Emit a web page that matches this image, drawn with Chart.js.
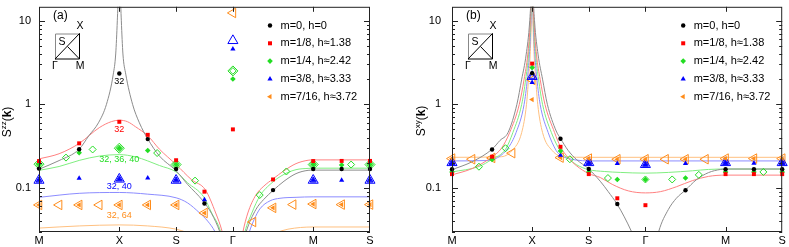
<!DOCTYPE html>
<html>
<head>
<meta charset="utf-8">
<script src="https://cdn.jsdelivr.net/npm/chart.js@4.4.1/dist/chart.umd.min.js"></script>
<style>
  body { margin: 0; background: #fff; }
  canvas { position: absolute; top: 0; }
</style>
</head>
<body>
<canvas id="zz" width="380" height="247" style="left:0"></canvas>
<canvas id="xy" width="376" height="247" style="left:413px"></canvas>
<script>
// path through the zone: M -> X -> S -> Gamma -> M -> S
const pathPos = [0, 1, 1.707, 2.414, 3.414, 4.121];
const pathNames = ['M', 'X', 'S', 'Γ', 'M', 'S'];
const yTicks = [0.1, 1, 10];
const legendNames = ['m=0, h=0', 'm=1/8, h≈1.38', 'm=1/4, h≈2.42', 'm=3/8, h≈3.33', 'm=7/16, h≈3.72'];

const colors = ['#000000', '#ff0000', '#22dd22', '#0000ff', '#ff8c1a'];
const lineColors = ['#8c8c8c', '#ff8080', '#80ee80', '#8c8cff', '#ffc080'];

// ---- panel (a): S^zz(k) ----
const zzLine0 = [[0,0.167],[0.25,0.212],[0.5,0.29],[0.62,0.42],[0.74,0.6],[0.84,1.0],[0.925,2.3],[0.955,4],[0.975,10],[0.99,25],[1.0,60],[1.01,25],[1.025,10],[1.045,4],[1.08,2.3],[1.165,1.0],[1.25,0.6],[1.354,0.385],[1.5,0.24],[1.707,0.16],[1.85,0.11],[2.04,0.07],[2.15,0.049],[2.25,0.03],[2.32,0.018],[2.414,null],[2.52,0.018],[2.58,0.03],[2.7,0.055],[2.8,0.073],[2.914,0.093],[3.05,0.12],[3.2,0.148],[3.35,0.162],[3.414,0.163],[4.121,0.163]];
const zzLine1 = [[0,0.222],[0.25,0.256],[0.5,0.34],[0.75,0.525],[0.9,0.62],[1.0,0.645],[1.1,0.62],[1.2,0.54],[1.354,0.42],[1.5,0.29],[1.707,0.19],[1.9,0.125],[2.07,0.095],[2.2,0.05],[2.28,0.03],[2.33,0.018],[2.414,null],[2.5,0.018],[2.54,0.03],[2.6,0.05],[2.7,0.082],[2.8,0.105],[2.914,0.128],[3.05,0.16],[3.2,0.195],[3.35,0.214],[3.414,0.216],[4.121,0.216]];
const zzLine2 = [[0,0.162],[0.25,0.18],[0.5,0.213],[0.75,0.24],[1.0,0.25],[1.2,0.235],[1.354,0.21],[1.5,0.185],[1.707,0.155],[1.85,0.115],[2.05,0.078],[2.15,0.05],[2.26,0.03],[2.31,0.018],[2.414,null],[2.52,0.018],[2.565,0.03],[2.65,0.05],[2.75,0.08],[2.9,0.115],[3.05,0.145],[3.2,0.165],[3.35,0.171],[3.414,0.172],[4.121,0.172]];
const zzLine3 = [[0,0.077],[0.5,0.086],[1.0,0.088],[1.354,0.084],[1.707,0.076],[1.85,0.066],[2.0,0.05],[2.1,0.04],[2.19,0.03],[2.25,0.022],[2.414,null],[2.58,0.022],[2.62,0.03],[2.68,0.042],[2.75,0.056],[2.877,0.07],[3.0,0.075],[3.2,0.077],[3.414,0.078],[4.121,0.078]];
const zzLine4 = [[0,0.033],[0.5,0.035],[1.0,0.036],[1.354,0.035],[1.707,0.032],[1.85,0.029],[2.0,0.025],[2.414,null],[2.8,0.025],[2.95,0.029],[3.1,0.032],[3.414,0.034],[4.121,0.034]];

const zzDots0 = [[0,0.17],[0.5,0.29],[1,2.34],[1.354,0.383],[1.707,0.168],[2.06,0.065],[2.914,0.094],[3.414,0.168],[3.768,0.168],[4.121,0.168]];
const zzDots1 = [[0,0.209],[0.5,0.341],[1,0.617],[1.354,0.431],[1.707,0.214],[2.06,0.09],[2.414,0.501],[2.914,0.126],[3.414,0.209],[3.768,0.21],[4.121,0.21]];
const zzDots2 = [[0,0.192],[0.5,0.263],[1,0.298],[1.354,0.28],[1.707,0.19],[2.414,2.01],[3.414,0.19],[3.768,0.188],[4.121,0.19]];
const zzDots3 = [[0,0.123],[0.5,0.13],[1,0.127],[1.354,0.131],[1.707,0.123],[2.06,0.072],[2.414,4.59],[3.414,0.123],[3.768,0.123],[4.121,0.123]];
const zzDots4 = [[0,0.0624],[0.5,0.0624],[1,0.0624],[1.354,0.0624],[1.707,0.0624],[2.06,0.05],[2.914,0.0576],[3.414,0.064],[3.768,0.063],[4.121,0.063]];

const zzGreenOpen = [[0.336,0.23],[0.668,0.288],[1.471,0.261],[1.943,0.122],[2.748,0.082],[3.08,0.157],[3.886,0.19]];
const zzGreenBig = [[0,0.192],[1,0.298],[1.707,0.19],[2.414,2.51],[3.414,0.19],[4.121,0.19]];
const zzBlueBig = [[0,0.123],[1,0.127],[1.707,0.123],[2.414,5.78],[3.414,0.123],[4.121,0.123]];
const zzBlueMid = [[0,0.123],[1,0.127],[1.707,0.123],[3.414,0.123],[4.121,0.123]];
const zzOrangeOpen = [[0,0.0624],[0.25,0.0624],[0.5,0.0624],[0.75,0.0624],[1,0.0624],[1.354,0.0624],[1.707,0.0624],[2.06,0.05],[2.414,12.4],[2.664,0.039],[2.914,0.0576],[3.164,0.063],[3.414,0.064],[3.768,0.063],[4.121,0.063]];

// cluster sizes written under the X point
const zzNotes = [['32', 1.85, 0], ['32', 0.497, 1], ['32, 36, 40', 0.216, 2], ['32, 40', 0.105, 3], ['32, 64', 0.0468, 4]];

// ---- panel (b): S^xy(k) ----
const xyLine0 = [[0,0.165],[0.25,0.205],[0.5,0.29],[0.6,0.37],[0.7,0.46],[0.81,1.0],[0.87,2.0],[0.925,3.9],[0.97,10],[0.99,25],[1.0,80],[1.01,25],[1.03,10],[1.075,3.9],[1.13,2.0],[1.19,1.0],[1.3,0.48],[1.354,0.39],[1.45,0.28],[1.55,0.22],[1.707,0.168],[1.85,0.12],[1.95,0.09],[2.06,0.064],[2.15,0.045],[2.24,0.03],[2.3,0.022],[2.414,null],[2.55,0.022],[2.58,0.03],[2.7,0.055],[2.8,0.075],[2.914,0.094],[3.05,0.125],[3.2,0.152],[3.35,0.166],[3.414,0.168],[4.121,0.168]];
const xyLine1 = [[0,0.143],[0.25,0.17],[0.5,0.235],[0.62,0.3],[0.72,0.46],[0.84,1.0],[0.9,2.0],[0.945,3.9],[0.978,10],[0.993,25],[1.0,80],[1.007,25],[1.022,10],[1.055,3.9],[1.1,2.0],[1.16,1.0],[1.28,0.46],[1.354,0.31],[1.45,0.23],[1.55,0.185],[1.707,0.148],[1.85,0.133],[2.0,0.11],[2.2,0.092],[2.414,0.087],[2.6,0.09],[2.8,0.103],[3.0,0.122],[3.2,0.137],[3.414,0.142],[4.121,0.142]];
const xyLine2 = [[0,0.155],[0.336,0.18],[0.5,0.22],[0.668,0.29],[0.76,0.46],[0.87,1.0],[0.92,2.0],[0.955,3.9],[0.982,10],[0.994,25],[1.0,80],[1.006,25],[1.018,10],[1.045,3.9],[1.08,2.0],[1.13,1.0],[1.24,0.46],[1.354,0.275],[1.45,0.225],[1.55,0.19],[1.707,0.165],[1.9,0.157],[2.1,0.153],[2.414,0.15],[2.7,0.153],[3.0,0.16],[3.2,0.166],[3.414,0.168],[4.121,0.168]];
const xyLine3 = [[0,0.21],[0.4,0.212],[0.55,0.225],[0.7,0.3],[0.8,0.46],[0.9,1.0],[0.94,2.0],[0.965,3.9],[0.986,10],[0.995,25],[1.0,80],[1.005,25],[1.014,10],[1.035,3.9],[1.06,2.0],[1.1,1.0],[1.2,0.46],[1.3,0.28],[1.354,0.245],[1.45,0.225],[1.55,0.215],[1.707,0.21],[4.121,0.21]];
const xyLine4 = [[0,0.232],[0.6,0.235],[0.75,0.28],[0.87,0.46],[0.93,1.0],[0.955,2.0],[0.975,3.9],[0.99,10],[0.997,25],[1.0,80],[1.003,25],[1.01,10],[1.025,3.9],[1.045,2.0],[1.07,1.0],[1.13,0.46],[1.25,0.28],[1.4,0.235],[1.707,0.232],[4.121,0.232]];

const xyDots0 = [[0,0.167],[0.5,0.288],[1,2.35],[1.354,0.387],[1.707,0.168],[2.063,0.064],[2.914,0.0935],[3.414,0.167],[3.768,0.167],[4.121,0.167]];
const xyDots1 = [[0,0.146],[0.5,0.236],[1,3.07],[1.354,0.31],[1.707,0.146],[2.063,0.075],[2.414,0.062],[3.414,0.146],[3.768,0.146],[4.121,0.146]];
const xyDots2 = [[0,0.155],[0.5,0.218],[1,2.75],[1.354,0.277],[1.707,0.155],[2.063,0.126],[2.414,0.126],[2.914,0.131],[3.414,0.155],[3.768,0.155],[4.121,0.155]];
const xyDots3 = [[0,0.2],[0.5,0.225],[1,1.82],[1.354,0.245],[1.707,0.2],[2.063,0.195],[2.414,0.19],[2.914,0.195],[3.414,0.2],[3.768,0.197],[4.121,0.2]];
const xyDots4 = [[0,0.224],[0.5,0.228],[1,1.14],[1.354,0.23],[1.707,0.224],[2.063,0.22],[2.414,0.22],[2.914,0.22],[3.414,0.224],[3.768,0.224],[4.121,0.224]];

const xyGreenOpen = [[0.336,0.179],[0.668,0.298],[1.471,0.22],[1.946,0.131],[2.414,0.126],[2.748,0.126],[3.08,0.143],[3.886,0.155]];
const xyBlueBig = [[0,0.2],[1,2.15],[1.707,0.2],[2.414,0.19],[3.414,0.2],[4.121,0.2]];
const xyBlueMid = [[0,0.2],[1,2.15],[1.707,0.2],[2.414,0.19],[3.414,0.2],[4.121,0.2]];
const xyOrangeOpen = [[0,0.224],[0.25,0.22],[0.5,0.228],[0.75,0.26],[1,1.96],[1.354,0.23],[1.707,0.224],[2.063,0.22],[2.414,0.22],[2.665,0.22],[2.914,0.22],[3.163,0.22],[3.414,0.224],[3.768,0.224],[4.121,0.224]];

Chart.defaults.font.family = '"Liberation Sans", Arial, sans-serif';
Chart.defaults.font.size = 11;
Chart.defaults.color = '#000';

const marks = [
  {style: 'circle', r: 2.2, rot: 0},
  {style: 'rect', r: 2.8, rot: 0},
  {style: 'rectRot', r: 2.8, rot: 0},
  {style: 'triangle', r: 3, rot: 0},
  {style: 'triangle', r: 3, rot: -90},
];

const pts = arr => arr.map(p => ({x: p[0], y: p[1]}));

function filled(data, i) {
  const m = marks[i];
  return { data: pts(data), showLine: false, clip: false, order: 0,
    pointStyle: m.style, pointRadius: m.r, pointRotation: m.rot,
    backgroundColor: colors[i], borderColor: colors[i], borderWidth: 0 };
}
function hollow(data, i, r) {
  const m = marks[i];
  return { data: pts(data), showLine: false, clip: false, order: 1,
    pointStyle: m.style, pointRadius: r, pointRotation: m.rot,
    backgroundColor: 'rgba(0,0,0,0)', borderColor: colors[i], borderWidth: 1 };
}
function curve(data, i) {
  return { data: pts(data), showLine: true, pointRadius: 0, order: 2,
    borderColor: lineColors[i], borderWidth: 1, cubicInterpolationMode: 'monotone', spanGaps: false };
}

// little marker for the legend, same shapes as the data
function legendMark(ctx, i, x, y) {
  ctx.fillStyle = colors[i];
  ctx.beginPath();
  if (i === 0) ctx.arc(x, y, 2.2, 0, Math.PI * 2);
  else if (i === 1) ctx.rect(x - 2, y - 2, 4, 4);
  else if (i === 2) { ctx.moveTo(x, y - 2.8); ctx.lineTo(x + 2.8, y); ctx.lineTo(x, y + 2.8); ctx.lineTo(x - 2.8, y); }
  else if (i === 3) { ctx.moveTo(x, y - 3); ctx.lineTo(x + 2.6, y + 1.5); ctx.lineTo(x - 2.6, y + 1.5); }
  else { ctx.moveTo(x - 3, y); ctx.lineTo(x + 1.5, y - 2.6); ctx.lineTo(x + 1.5, y + 2.6); }
  ctx.closePath();
  ctx.fill();
}

const deco = {
  id: 'deco',
  afterDraw(chart, args, o) {
    const ctx = chart.ctx, a = chart.chartArea, x = chart.scales.x, y = chart.scales.y;
    ctx.save();
    // frame
    ctx.strokeStyle = '#222';
    ctx.lineWidth = 1;
    ctx.strokeRect(a.left + 0.5, a.top + 0.5, a.right - a.left - 1, a.bottom - a.top - 1);

    // inward ticks on the log axis
    ctx.beginPath();
    [0.01, 0.1, 1, 10].forEach(d => {
      for (let k = 1; k <= 9; k++) {
        const v = k * d;
        if (v < y.min || v > y.max) continue;
        const py = Math.round(y.getPixelForValue(v)) + 0.5;
        const len = k === 1 ? 6 : 3;
        ctx.moveTo(a.left, py); ctx.lineTo(a.left + len, py);
        ctx.moveTo(a.right, py); ctx.lineTo(a.right - len, py);
      }
    });
    pathPos.slice(1, -1).forEach(v => {
      const px = Math.round(x.getPixelForValue(v)) + 0.5;
      ctx.moveTo(px, a.bottom); ctx.lineTo(px, a.bottom - 5);
      ctx.moveTo(px, a.top); ctx.lineTo(px, a.top + 5);
    });
    ctx.stroke();

    // axis title S^ab(k)
    ctx.translate(o.titleX, o.titleY);
    ctx.rotate(-Math.PI / 2);
    ctx.fillStyle = '#000';
    ctx.textBaseline = 'middle';
    const parts = [['S', '12px', 0], [o.sup, '8px', -4], ['(', '12px', 0], ['k', 'bold 12px', 0], [')', '12px', 0]];
    let w = 0;
    parts.forEach(p => { ctx.font = p[1] + ' "Liberation Sans", Arial'; w += ctx.measureText(p[0]).width; });
    let cx = -w / 2;
    parts.forEach(p => {
      ctx.font = p[1] + ' "Liberation Sans", Arial';
      ctx.fillText(p[0], cx, p[2]);
      cx += ctx.measureText(p[0]).width;
    });
    ctx.setTransform(1, 0, 0, 1, 0, 0);

    // panel label
    ctx.font = '12px "Liberation Sans", Arial';
    ctx.textAlign = 'left';
    ctx.fillText(o.panel, a.left + 14, 16);

    // Brillouin zone sketch
    const bx = a.left + 16, by = 33.5, bw = 25, bh = 26;
    ctx.strokeStyle = '#888';
    ctx.beginPath();
    ctx.moveTo(bx + 0.5, by + bh); ctx.lineTo(bx + 0.5, by + 0.5); ctx.lineTo(bx + bw, by + 0.5);
    ctx.stroke();
    ctx.strokeStyle = '#000';
    ctx.beginPath();
    ctx.moveTo(bx, by + bh - 0.5); ctx.lineTo(bx + bw - 0.5, by + bh - 0.5);
    ctx.lineTo(bx + bw - 0.5, by); ctx.lineTo(bx, by + bh - 0.5);
    ctx.moveTo(bx + bw / 2, by + bh / 2); ctx.lineTo(bx + bw - 0.5, by + bh - 0.5);
    ctx.stroke();
    ctx.font = '10.5px "Liberation Sans", Arial';
    ctx.textAlign = 'center';
    ctx.fillText('X', bx + bw, by - 7);
    ctx.fillText('S', bx + 7, by + 9);
    ctx.fillText('Γ', bx, by + bh + 6.5);
    ctx.fillText('M', bx + bw, by + bh + 6.5);

    // legend
    ctx.font = '11px "Liberation Sans", Arial';
    ctx.textAlign = 'left';
    legendNames.forEach((t, i) => {
      const ly = a.top + 18.7 + i * 17.8;
      const lx = a.right - o.legDx;
      legendMark(ctx, i, lx, ly);
      ctx.fillStyle = '#000';
      ctx.fillText(t, lx + 10.5, ly);
    });

    // cluster size notes
    ctx.font = '9px "Liberation Sans", Arial';
    ctx.textAlign = 'center';
    (o.notes || []).forEach(n => {
      ctx.fillStyle = colors[n[2]];
      ctx.fillText(n[0], x.getPixelForValue(1), y.getPixelForValue(n[1]));
    });
    ctx.restore();
  }
};

function options(o) {
  return {
    responsive: false, animation: false, events: [],
    layout: {padding: {top: 1, right: o.padRight, left: 0, bottom: 0}},
    plugins: {legend: {display: false}, tooltip: {enabled: false}, deco: o},
    scales: {
      x: {
        type: 'linear', min: 0, max: 4.121,
        grid: {display: false, drawTicks: false}, border: {display: false},
        afterBuildTicks: s => { s.ticks = pathPos.map(v => ({value: v})); },
        afterFit: s => { s.height = 15; s.paddingLeft = 0; s.paddingRight = 0; },
        ticks: {padding: 2, autoSkip: false, maxRotation: 0, callback: (v, i) => pathNames[i]}
      },
      y: {
        type: 'logarithmic', min: 0.02961, max: 14.69,
        grid: {display: false, drawTicks: false}, border: {display: false},
        afterBuildTicks: s => { s.ticks = yTicks.map(v => ({value: v})); },
        afterFit: s => { s.width = 39; s.paddingTop = 0; s.paddingBottom = 0; },
        ticks: {padding: o.yPad, callback: v => String(v)}
      }
    }
  };
}

new Chart(document.getElementById('zz'), {
  type: 'scatter',
  data: {datasets: [
    filled(zzDots0, 0), filled(zzDots1, 1), filled(zzDots2, 2), filled(zzDots3, 3), filled(zzDots4, 4),
    hollow(zzGreenOpen, 2, 3.5), hollow(zzGreenBig, 2, 5), hollow(zzGreenBig, 2, 3.3),
    hollow(zzBlueBig, 3, 5.8), hollow(zzBlueMid, 3, 3.5), hollow(zzOrangeOpen, 4, 5.5),
    curve(zzLine0, 0), curve(zzLine1, 1), curve(zzLine2, 2), curve(zzLine3, 3), curve(zzLine4, 4)
  ]},
  options: options({padRight: 10, yPad: 8, sup: 'zz', panel: '(a)', titleX: 7.5, titleY: 122, legDx: 100, notes: zzNotes}),
  plugins: [deco]
});

new Chart(document.getElementById('xy'), {
  type: 'scatter',
  data: {datasets: [
    filled(xyDots0, 0), filled(xyDots1, 1), filled(xyDots2, 2), filled(xyDots3, 3), filled(xyDots4, 4),
    hollow(xyGreenOpen, 2, 3.5),
    hollow(xyBlueBig, 3, 5.8), hollow(xyBlueMid, 3, 3.5), hollow(xyOrangeOpen, 4, 5.5),
    curve(xyLine0, 0), curve(xyLine1, 1), curve(xyLine2, 2), curve(xyLine3, 3), curve(xyLine4, 4)
  ]},
  options: options({padRight: 6, yPad: 11, sup: 'xy', panel: '(b)', titleX: 9, titleY: 121, legDx: 99}),
  plugins: [deco]
});
</script>
</body>
</html>
